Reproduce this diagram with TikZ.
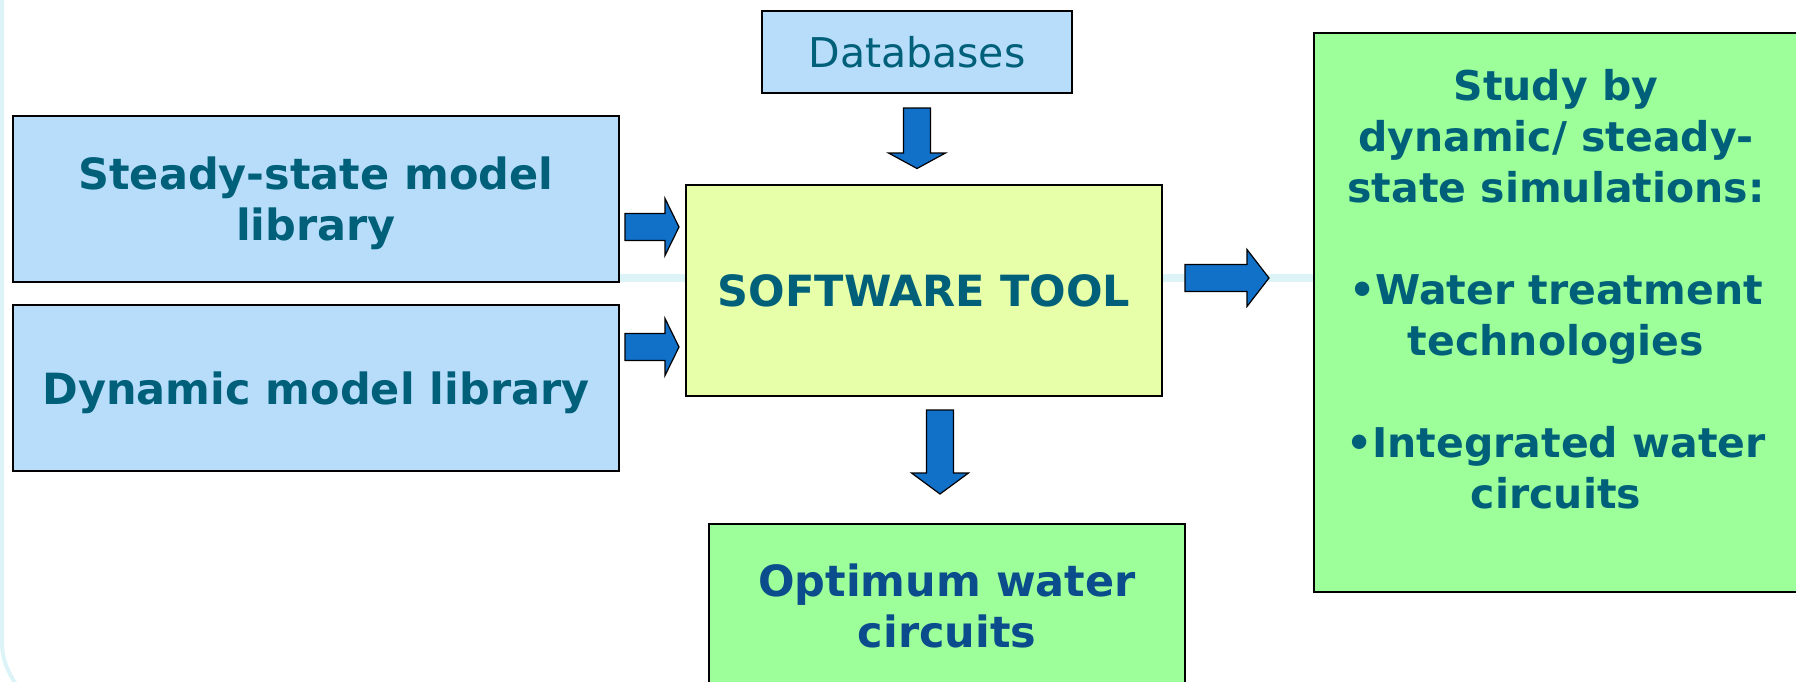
\documentclass[tikz,border=0pt]{standalone}
\usepackage{fontspec}
\setmainfont{DejaVu Sans}
\usetikzlibrary{calc}
\definecolor{boxblue}{RGB}{183,221,251}
\definecolor{boxyellow}{RGB}{230,255,168}
\definecolor{boxgreen}{RGB}{156,255,153}
\definecolor{arrowblue}{RGB}{17,112,200}
\definecolor{textteal}{RGB}{0,96,122}
\definecolor{textblue}{RGB}{11,76,140}
\definecolor{slideline}{RGB}{220,244,248}

\tikzset{
  box/.style={draw=black, line width=1pt, inner sep=0pt, align=center, text=textteal, text depth=0pt,
    font=\bfseries\fontsize{21.5}{25.5}\selectfont},
  fatarrow/.style={draw=black, line width=0.6pt, fill=arrowblue, line join=miter},
}
% block arrow: start, angle, length, head length
\newcommand{\blockarrow}[4]{%
  \draw[fatarrow, shift={#1}, rotate=#2] (0,-13.5) -- ({#3-#4},-13.5) -- ({#3-#4},-28.5)
    -- (#3,0) -- ({#3-#4},28.5) -- ({#3-#4},13.5) -- (0,13.5) -- cycle;}

\begin{document}
\begin{tikzpicture}[x=0.5pt,y=-0.5pt]
\useasboundingbox (0,0) rectangle (1796,681);
\clip (0,0) rectangle (1796,681);

% slide decoration behind the boxes
\draw[slideline, line width=2pt] (2,-2) -- (2,642) .. controls (2,660) and (8,672) .. (17,686);
\draw[slideline, line width=4pt] (13,278) -- (1796,278);

\node[box, fill=boxblue, minimum width=303pt, minimum height=83pt] (steady) at (316,199) {Steady-state model\\library};
\node[box, fill=boxblue, minimum width=303pt, minimum height=83pt] (dynamic) at (316,388) {Dynamic model library};
\node[box, fill=boxblue, minimum width=155pt, minimum height=41pt, font=\fontsize{20.5}{25}\selectfont] (db) at (917,52) {Databases};
\node[box, fill=boxyellow, minimum width=238pt, minimum height=105.5pt] (soft) at (924,290.5) {SOFTWARE TOOL};
\node[box, fill=boxgreen, minimum width=238pt, minimum height=82pt, text=textblue] (opt) at (947,606) {Optimum water\\circuits};
\node[box, fill=boxgreen, minimum width=242pt, minimum height=279.5pt] (study) at (1556,312) {};
\node[align=center, text=textteal, font=\bfseries\fontsize{20.5}{25.5}\selectfont] (studytext) at ($(study.center)+(0,-23)$)
  {Study by\\dynamic/ steady-\\state simulations:\\[25.5pt]•Water treatment\\technologies\\[25.5pt]•Integrated water\\circuits};

\foreach \y in {227,347}
  {\blockarrow{(625,\y)}{0}{54}{14}}
\blockarrow{(917,108)}{-90}{60.5}{15.5}
\blockarrow{(940,410)}{-90}{84}{21}
\blockarrow{(1185,278)}{0}{84}{22}
\end{tikzpicture}
\end{document}
